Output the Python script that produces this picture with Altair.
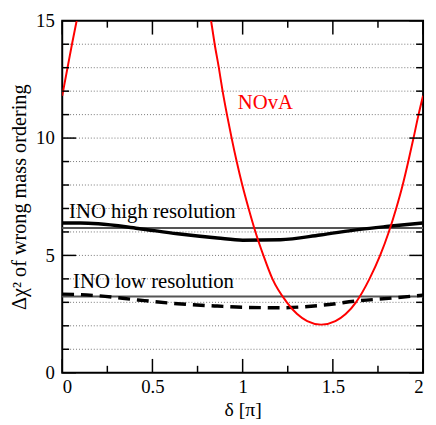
import altair as alt
import pandas as pd

# NOvA curve (two visible pieces; it runs above the top of the frame in between)
nova_a_delta = [0.0, 0.027, 0.054, 0.080]
nova_a_chi = [11.8, 12.9, 14.0, 15.0]
nova_b_delta = [0.825, 0.845, 0.868, 0.889, 0.913, 0.939, 0.967, 0.998, 1.033,
                1.071, 1.115, 1.165, 1.245, 1.302, 1.358, 1.435, 1.514, 1.571,
                1.628, 1.703, 1.762, 1.810, 1.851, 1.887, 1.918, 1.947, 1.975, 2.0]
nova_b_chi = [15.0, 14.0, 13.0, 12.0, 11.0, 10.0, 9.0, 8.0, 7.0,
              6.0, 5.0, 4.0, 3.0, 2.5, 2.2, 2.05, 2.2, 2.5,
              3.0, 4.0, 5.0, 6.0, 7.0, 8.0, 9.0, 10.0, 11.0, 11.8]

# INO curves
ino_delta = [0.0, 0.1, 0.2, 0.42, 0.64, 0.86, 1.0, 1.21, 1.43, 1.65, 1.81, 2.0]
ino_high = [6.38, 6.38, 6.35, 6.15, 5.92, 5.74, 5.65, 5.67, 5.87, 6.11, 6.24, 6.38]
ino_low = [3.35, 3.33, 3.28, 3.10, 2.94, 2.84, 2.79, 2.77, 2.87, 3.07, 3.17, 3.31]

# constant reference levels
ref_levels = [6.17, 3.25]

# axis ticks / grid
y_labels = [0, 5, 10, 15]
y_minor = [1, 2, 3, 4, 6, 7, 8, 9, 11, 12, 13, 14]
grid_vals = [1, 2, 3, 4, 5, 6, 7, 8, 9, 10, 11, 12, 13, 14]
x_major = [0, 0.5, 1, 1.5, 2]
x_minor = [0.25, 0.75, 1.25, 1.75]

labels_text = ["NOvA", "INO high resolution", "INO low resolution"]
labels_x = [0.973, 0.038, 0.060]
labels_y = [11.24, 6.60, 3.59]
labels_color = ["#ff0000", "black", "black"]

W, H = 366, 357
FONT = "Liberation Serif, Times New Roman, Times, serif"

xs = alt.Scale(domain=[0, 2], nice=False, zero=False)
ys = alt.Scale(domain=[0, 15], nice=False, zero=False)

XAX = alt.Axis(
    values=x_major, title="δ [π]", ticks=False, domain=False, grid=False,
    format="~g", labelPadding=5, labelFont=FONT, labelFontSize=19,
    titleFont=FONT, titleFontSize=20,
    titleY=43, titleBaseline="alphabetic")
YAX = alt.Axis(
    values=y_labels, title="Δχ² of wrong mass ordering", ticks=False,
    domain=False, grid=False, labelPadding=8, format="~g",
    labelFont=FONT, labelFontSize=19, titleFont=FONT, titleFontSize=20.5,
    titleX=-37, titleY=H / 2, titleAngle=-90, titleAlign="center",
    titleBaseline="alphabetic")


def X(field):
    return alt.X(field, scale=xs, axis=XAX)


def Y(field):
    return alt.Y(field, scale=ys, axis=YAX)


nova = pd.DataFrame({
    "d": nova_a_delta + nova_b_delta,
    "c": nova_a_chi + nova_b_chi,
    "seg": ["a"] * len(nova_a_delta) + ["b"] * len(nova_b_delta),
})
ino = pd.DataFrame({"d": ino_delta, "hi": ino_high, "lo": ino_low})

grid = alt.Chart(pd.DataFrame({"g": grid_vals})).mark_rule(
    color="#777777", strokeDash=[1, 2], strokeWidth=1
).encode(y=Y("g:Q"))

refs = alt.Chart(pd.DataFrame({"r": ref_levels})).mark_rule(
    color="#555555", strokeWidth=2
).encode(y=Y("r:Q"))

hi_line = alt.Chart(ino).mark_line(
    color="black", strokeWidth=3.5, interpolate="monotone"
).encode(x=X("d:Q"), y=Y("hi:Q"))

lo_line = alt.Chart(ino).mark_line(
    color="black", strokeWidth=3.5, strokeDash=[12, 7], interpolate="monotone"
).encode(x=X("d:Q"), y=Y("lo:Q"))

nova_line = alt.Chart(nova).mark_line(
    color="#ff0000", strokeWidth=2, interpolate="monotone", clip=True
).encode(x=X("d:Q"), y=Y("c:Q"), detail="seg:N")

labels = alt.Chart(pd.DataFrame({
    "t": labels_text, "x": labels_x, "y": labels_y, "col": labels_color
})).mark_text(align="left", baseline="alphabetic", font=FONT, fontSize=21).encode(
    x=X("x:Q"), y=Y("y:Q"),
    text="t:N",
    color=alt.Color("col:N", scale=None),
)


def yticks(vals, length):
    df = pd.DataFrame({"v": vals})
    left = alt.Chart(df).mark_rule(color="black", strokeWidth=1.5).encode(
        y=Y("v:Q"), x=alt.value(0), x2=alt.value(length))
    right = alt.Chart(df).mark_rule(color="black", strokeWidth=1.5).encode(
        y=Y("v:Q"), x=alt.value(W), x2=alt.value(W - length))
    return [left, right]


def xticks(vals, length):
    df = pd.DataFrame({"v": vals})
    bottom = alt.Chart(df).mark_rule(color="black", strokeWidth=1.5).encode(
        x=X("v:Q"), y=alt.value(H), y2=alt.value(H - length))
    top = alt.Chart(df).mark_rule(color="black", strokeWidth=1.5).encode(
        x=X("v:Q"), y=alt.value(0), y2=alt.value(length))
    return [bottom, top]


tick_layers = yticks(y_labels, 14) + yticks(y_minor, 7) + xticks(x_major, 14) + xticks(x_minor, 7)

chart = alt.layer(
    grid, refs, hi_line, lo_line, nova_line, labels, *tick_layers
).properties(
    width=W, height=H,
    autosize=alt.AutoSizeParams(type="none"),
    padding={"left": 55, "top": 10, "right": 5, "bottom": 45},
).configure_view(
    stroke="black", strokeWidth=2
).configure_axis(
    labelFont=FONT, labelFontSize=19, labelColor="black",
    titleFont=FONT, titleFontSize=20, titleColor="black", titleFontWeight="normal",
)

chart.save("out.html", embed_options={"renderer": "svg", "actions": False})
